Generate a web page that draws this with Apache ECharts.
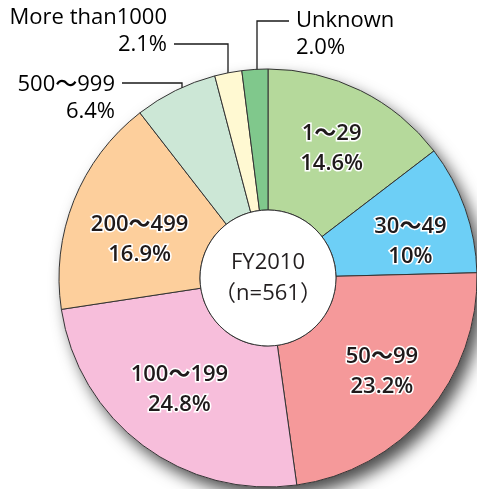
<!DOCTYPE html>
<html><head><meta charset="utf-8">
<script src="https://cdn.jsdelivr.net/npm/echarts@6/dist/echarts.min.js"></script>
<style>html,body{margin:0;padding:0;background:#fff}#c{width:477px;height:489px}</style>
</head><body><div id="c"></div>
<script>
const categories = ['1～29','30～49','50～99','100～199','200～499','500～999','More than1000','Unknown'];
const shares = [14.6, 10, 23.2, 24.8, 16.9, 6.4, 2.1, 2.0];
const shareLabels = ['14.6%','10%','23.2%','24.8%','16.9%','6.4%','2.1%','2.0%'];
const colors = ['#b5d99b','#6dcff6','#f5999a','#f7bedb','#fdcf9c','#cce7d6','#fff9d2','#80c88c'];
const centerTitle = 'FY2010';
const centerSub = '（n=561）';

const CX = 268, CY = 278, R0 = 68, R = 209;
const FONT = '"Open Sans", "Noto Sans", "Noto Sans CJK JP", sans-serif';

// label placement tweaks (not data)
const insideShift = {0:[1,-2],1:[9,11],2:[6,2],3:[-4,-2],4:[3,14]};
const outsideLayout = {
  5: {x:115, y:98, align:'right', pts:[[182,116],[182,83],[122,83]]},
  6: {x:167, y:31, align:'right', pts:[[228,88],[228,44],[174,44]]},
  7: {x:296, y:34, align:'left',  pts:[[257,106],[257,21],[289,21]]}
};

const mainData = categories.map((c, i) => {
  const outside = i >= 5;
  return {
    name: c,
    value: shares[i],
    itemStyle: {color: colors[i]},
    label: outside ? {
      position: 'outside',
      fontWeight: 500,
      fontSize: 22,
      lineHeight: 27,
      textBorderWidth: 0,
      color: '#000000',
      align: outsideLayout[i].align
    } : {position: 'inside'},
    labelLine: {show: outside, lineStyle: {color: '#1a1a1a', width: 1.3}}
  };
});

const chart = echarts.init(document.getElementById('c'), null, {renderer: 'canvas'});
chart.setOption({
  animation: false,
  series: [
    {
      type: 'pie', silent: true, center: [CX, CY], radius: [0, R],
      label: {show: false}, labelLine: {show: false},
      emphasis: {disabled: true},
      itemStyle: {color: '#ffffff', shadowColor: 'rgba(0,0,0,0.7)', shadowBlur: 16, shadowOffsetX: 7, shadowOffsetY: 9},
      data: [{value: 1, name: 'bg'}], z: 1
    },
    {
      type: 'pie', silent: true, center: [CX, CY], radius: [R0, R],
      startAngle: 90, clockwise: true,
      avoidLabelOverlap: false,
      emphasis: {disabled: true},
      itemStyle: {borderColor: '#333333', borderWidth: 1},
      label: {
        show: true,
        formatter: p => p.name + '\n' + shareLabels[p.dataIndex],
        fontFamily: FONT, fontSize: 22, fontWeight: 600, lineHeight: 30,
        color: '#1f1a1b', textBorderColor: '#ffffff', textBorderWidth: 3
      },
      labelLayout: function (params) {
        const i = params.dataIndex;
        if (outsideLayout[i]) {
          const o = outsideLayout[i];
          return {x: o.x, y: o.y, align: o.align, verticalAlign: 'middle', labelLinePoints: o.pts};
        }
        const s = insideShift[i] || [0,0];
        return {dx: s[0], dy: s[1]};
      },
      data: mainData, z: 2
    },
    {
      type: 'pie', silent: true, center: [CX, CY], radius: [0, R0],
      emphasis: {disabled: true},
      itemStyle: {color: '#ffffff', borderColor: '#333333', borderWidth: 1},
      label: {
        show: true, position: 'center',
        formatter: centerTitle + '\n' + centerSub,
        fontFamily: FONT, fontSize: 22, fontWeight: 'normal', lineHeight: 31, color: '#231f20'
      },
      labelLine: {show: false},
      data: [{value: 1, name: centerTitle}], z: 3
    }
  ]
});
</script>
</body></html>
